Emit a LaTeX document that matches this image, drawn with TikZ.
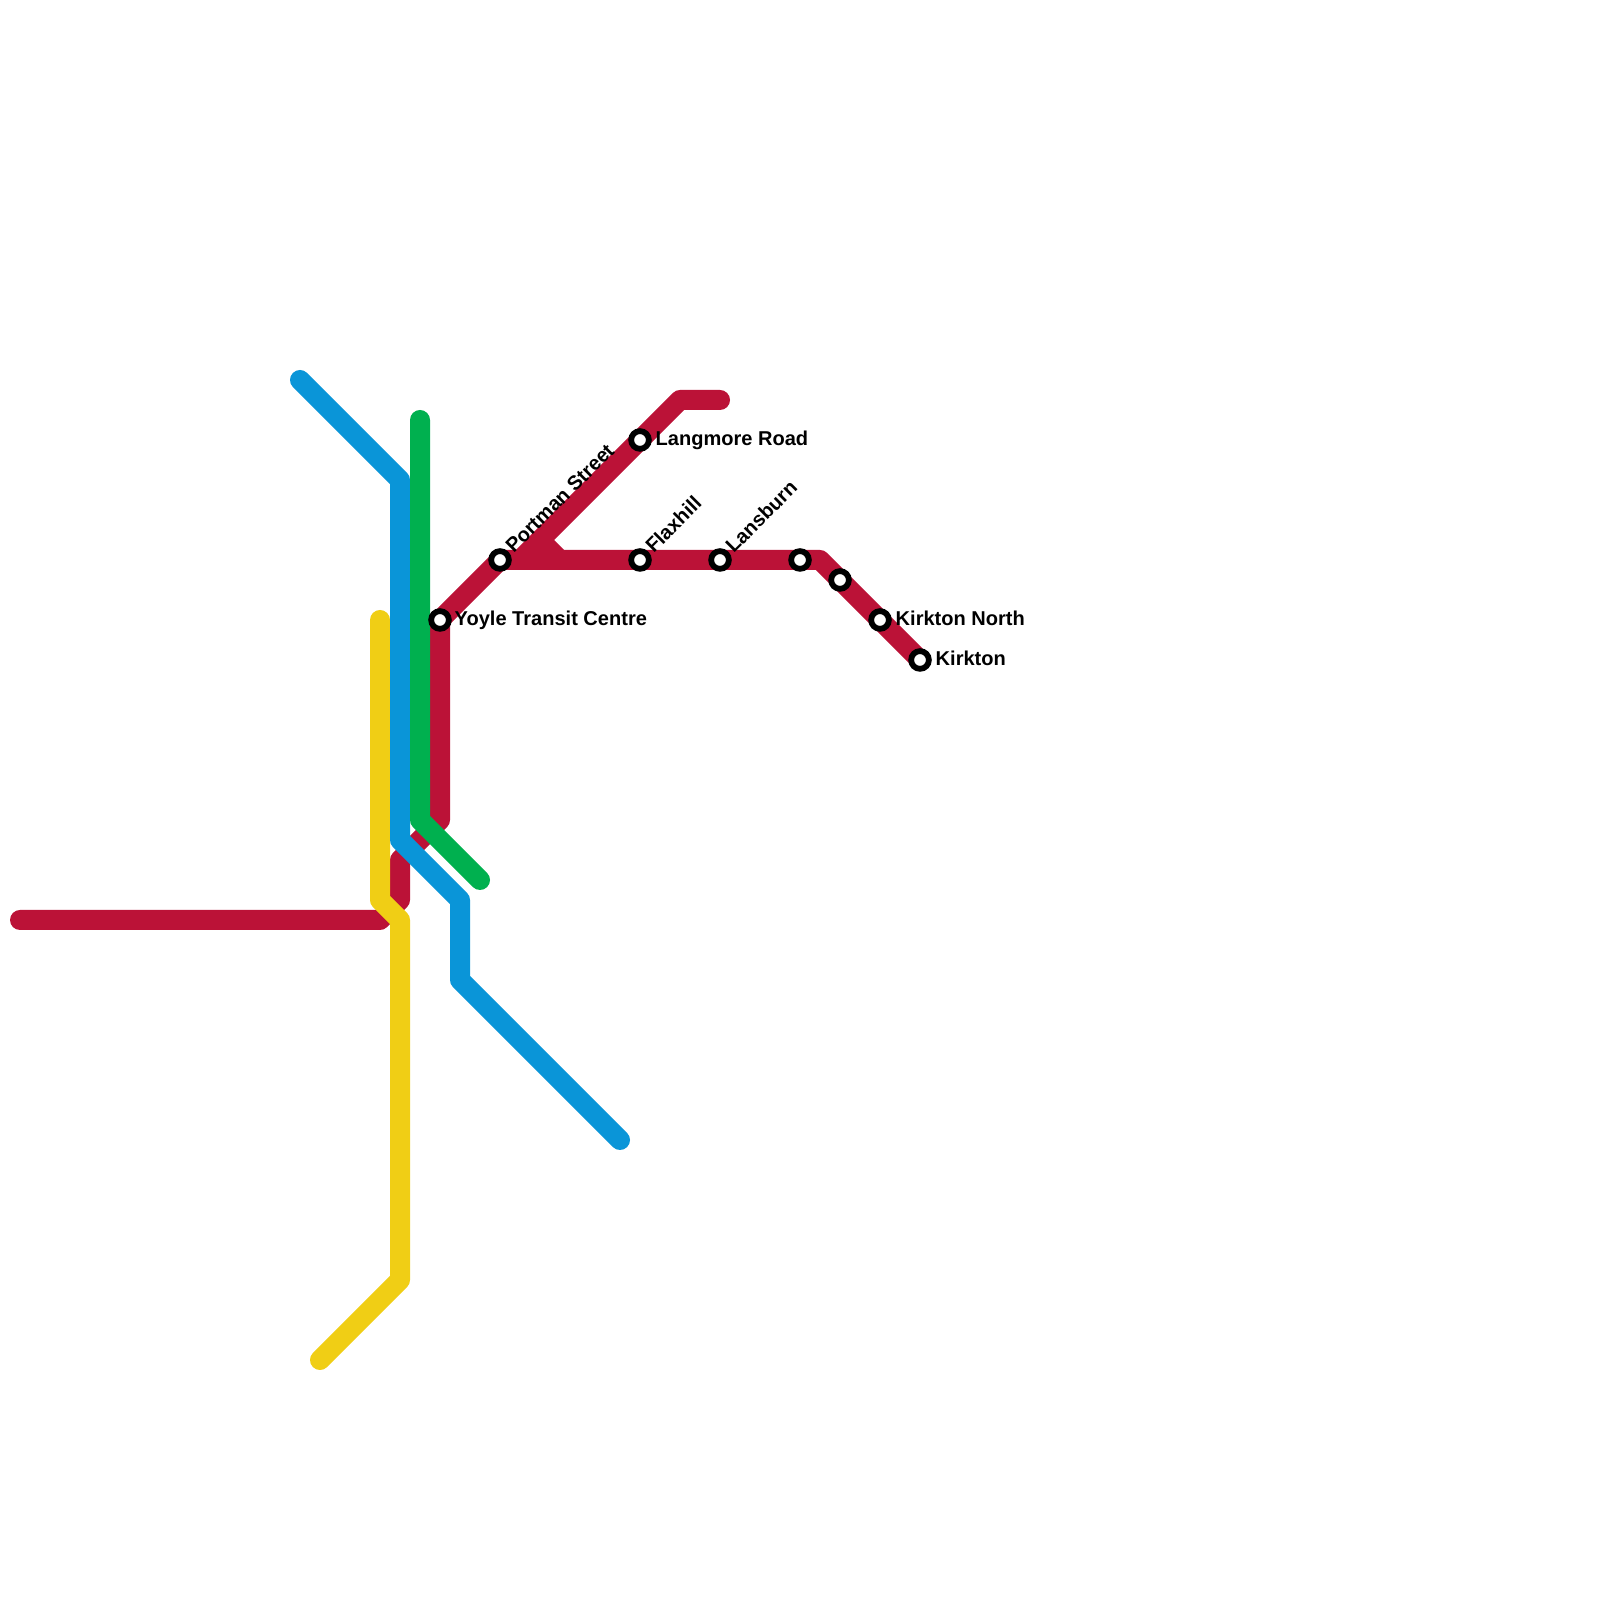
\documentclass[tikz,border=0pt]{standalone}
\usepackage{fontspec}
\setmainfont{Liberation Sans}
\usepackage{xcolor}
\definecolor{linered}{HTML}{BB1237}
\definecolor{lineblue}{HTML}{0A95D8}
\definecolor{linegreen}{HTML}{00B04F}
\definecolor{lineyellow}{HTML}{F0CE15}

\begin{document}
\begin{tikzpicture}[-,auto,
  point/.style={coordinate},
  track/.style={line width=5.69pt, line cap=round, line join=round},
  station/.style={circle, draw=black, fill=white, line width=1.65pt, minimum size=1.77mm, inner sep=0pt, outer sep=0pt},
  tag/.style={font=\fontsize{5.7}{6.8}\selectfont\bfseries, text=black, inner sep=0pt}]
\useasboundingbox (0,0) rectangle (16,16);
% red line
\node[point] (r0) at (0.2,6.8)  {};
\node[point] (r1) at (3.8,6.8)  {};
\node[point] (r2) at (4,7)  {};
\node[point] (r3) at (4,7.4)  {};
\node[point] (r4) at (4.4,7.8)  {};
\node[point] (r5) at (4.4,9.8)  {};
\node[point] (r6) at (5,10.4)  {};
\node[point] (r7) at (8.2,10.4)  {};
\node[point] (r8) at (9.2,9.4)  {};
\node[point] (r9) at (7.2,12)  {};
\node[point] (r10) at (6.8,12)  {};
\node[point] (r11) at (5.2,10.4)  {};
\node[point] (r12) at (5.4,10.6)  {};
\node[point] (r13) at (5.6,10.4)  {};
\draw[track, draw=linered]  (r0) -- (r1) -- (r2) -- (r3) -- (r4) -- (r5) -- (r6) -- (r7) -- (r8);
\draw[track, draw=linered]  (r9) -- (r10) -- (r11);
\draw[track, draw=linered]  (r12) -- (r13);
% yellow line
\node[point] (y0) at (3.8,9.8)  {};
\node[point] (y1) at (3.8,7)  {};
\node[point] (y2) at (4,6.8)  {};
\node[point] (y3) at (4,3.2)  {};
\node[point] (y4) at (3.2,2.4)  {};
\draw[track, draw=lineyellow]  (y0) -- (y1) -- (y2) -- (y3) -- (y4);
% blue line
\node[point] (b0) at (3,12.2)  {};
\node[point] (b1) at (4,11.2)  {};
\node[point] (b2) at (4,7.6)  {};
\node[point] (b3) at (4.6,7)  {};
\node[point] (b4) at (4.6,6.2)  {};
\node[point] (b5) at (6.2,4.6)  {};
\draw[track, draw=lineblue]  (b0) -- (b1) -- (b2) -- (b3) -- (b4) -- (b5);
% green line
\node[point] (g0) at (4.2,11.8)  {};
\node[point] (g1) at (4.2,7.8)  {};
\node[point] (g2) at (4.8,7.2)  {};
\draw[track, draw=linegreen]  (g0) -- (g1) -- (g2);
% stations
\node[station] (yoyle) at (4.4,9.8)  {};
\node[station] (portman) at (5,10.4)  {};
\node[station] (langmore) at (6.4,11.6)  {};
\node[station] (flaxhill) at (6.4,10.4)  {};
\node[station] (lansburn) at (7.2,10.4)  {};
\node[station] (s6) at (8,10.4)  {};
\node[station] (s7) at (8.4,10.2)  {};
\node[station] (kirktonn) at (8.8,9.8)  {};
\node[station] (kirkton) at (9.2,9.4)  {};
% labels
\node[tag, anchor=west] (l1) at (4.54,9.8)  {Yoyle Transit Centre};
\node[tag, anchor=south west, rotate=45] (l2) at (5.14,10.45)  {Portman Street};
\node[tag, anchor=west] (l3) at (6.55,11.6)  {Langmore Road};
\node[tag, anchor=south west, rotate=45] (l4) at (6.54,10.45)  {Flaxhill};
\node[tag, anchor=south west, rotate=45] (l5) at (7.34,10.45)  {Lansburn};
\node[tag, anchor=west] (l6) at (8.95,9.82)  {Kirkton North};
\node[tag, anchor=west] (l7) at (9.35,9.42)  {Kirkton};
\end{tikzpicture}
\end{document}
